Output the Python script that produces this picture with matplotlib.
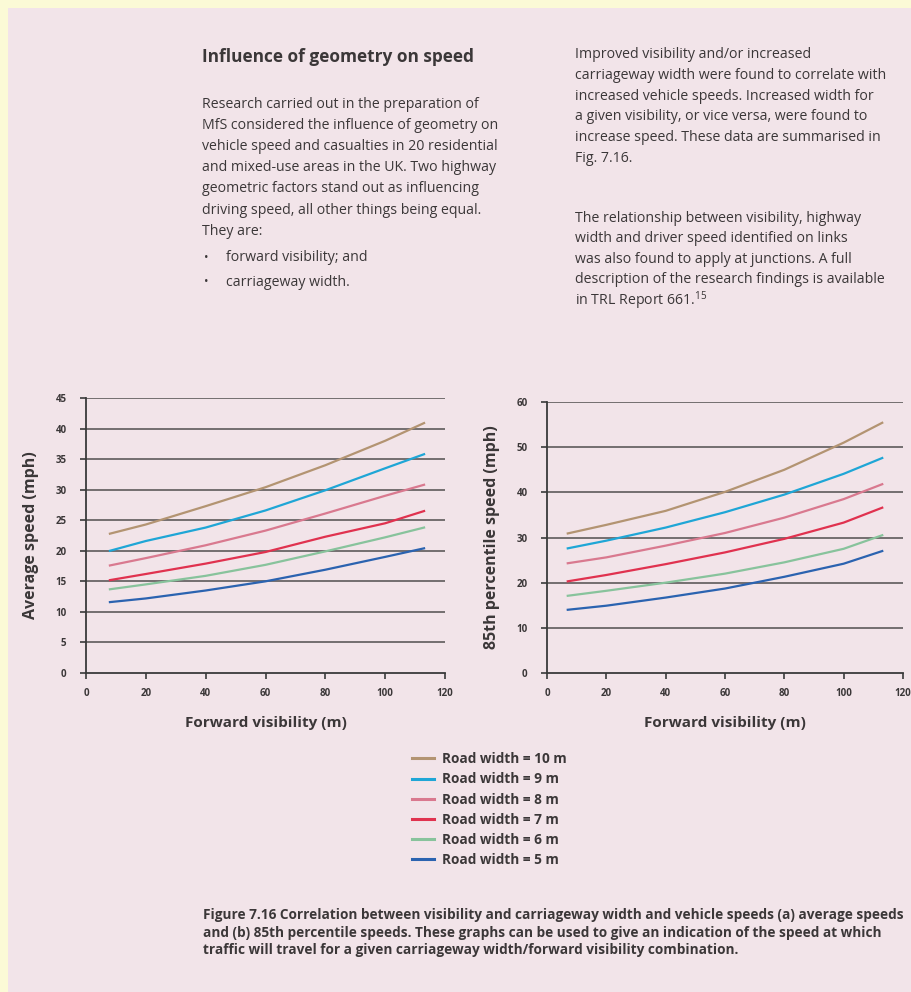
import matplotlib
matplotlib.use("Agg")
import matplotlib.pyplot as plt
from matplotlib.patches import Rectangle

FONT = ["Open Sans", "DejaVu Sans"]
plt.rcParams['font.family'] = FONT
plt.rcParams['mathtext.fontset'] = 'custom'
plt.rcParams['mathtext.rm'] = 'Open Sans'
plt.rcParams['mathtext.bf'] = 'Open Sans:bold'

# ---- data -------------------------------------------------------------
road_widths = ["10", "9", "8", "7", "6", "5"]
series_colors = ["#b39472", "#1fa6d6", "#d9798f", "#e0324f", "#88c39c", "#2b63b0"]

avg_visibility = [8, 20, 40, 60, 80, 100, 113]
avg_speed = {
    "10": [22.8, 24.3, 27.3, 30.4, 34.0, 38.0, 40.9],
    "9":  [20.0, 21.6, 23.8, 26.6, 29.9, 33.5, 35.8],
    "8":  [17.6, 18.8, 20.9, 23.3, 26.1, 29.0, 30.8],
    "7":  [15.2, 16.2, 17.9, 19.8, 22.3, 24.5, 26.5],
    "6":  [13.7, 14.5, 15.9, 17.7, 19.9, 22.2, 23.8],
    "5":  [11.6, 12.2, 13.5, 15.0, 16.9, 19.0, 20.4],
}

p85_visibility = [7, 20, 40, 60, 80, 100, 113]
p85_speed = {
    "10": [30.9, 32.8, 35.9, 40.1, 45.0, 51.0, 55.4],
    "9":  [27.6, 29.3, 32.2, 35.6, 39.5, 44.1, 47.6],
    "8":  [24.3, 25.6, 28.2, 31.0, 34.4, 38.5, 41.8],
    "7":  [20.3, 21.7, 24.1, 26.7, 29.7, 33.3, 36.6],
    "6":  [17.1, 18.2, 20.0, 22.0, 24.5, 27.5, 30.5],
    "5":  [14.0, 14.9, 16.7, 18.7, 21.3, 24.2, 27.0],
}

x_ticks = [0, 20, 40, 60, 80, 100, 120]
avg_ticks = [0, 5, 10, 15, 20, 25, 30, 35, 40, 45]
p85_ticks = [0, 10, 20, 30, 40, 50, 60]

# ---- page -------------------------------------------------------------
W, H = 911, 992
fig = plt.figure(figsize=(W / 100, H / 100), dpi=100)
fig.patch.set_facecolor("#fbfad6")
fig.patches.append(Rectangle((8 / W, 0), 1, 1 - 8 / H, transform=fig.transFigure,
                             facecolor="#f2e4e9", edgecolor="none", zorder=-5))

TXT = "#3b3738"


def ftext(x, y, s, **kw):
    kw.setdefault("color", TXT)
    kw.setdefault("va", "center")
    return fig.text(x / W, 1 - y / H, s, **kw)


BODY = 10.2

# left text column
ftext(202, 57, "Influence of geometry on speed", fontsize=12.4, fontweight="bold")
left_lines = [
    "Research carried out in the preparation of",
    "MfS considered the influence of geometry on",
    "vehicle speed and casualties in 20 residential",
    "and mixed-use areas in the UK. Two highway",
    "geometric factors stand out as influencing",
    "driving speed, all other things being equal.",
    "They are:",
]
for i, s in enumerate(left_lines):
    ftext(202, 104 + 21.2 * i, s, fontsize=BODY)
bullets = ["forward visibility; and", "carriageway width."]
for i, s in enumerate(bullets):
    ftext(204, 258 + 24 * i, "\u2022", fontsize=8.5)
    ftext(226, 258 + 24 * i, s, fontsize=BODY)

# right text column
right_p1 = [
    "Improved visibility and/or increased",
    "carriageway width were found to correlate with",
    "increased vehicle speeds. Increased width for",
    "a given visibility, or vice versa, were found to",
    "increase speed. These data are summarised in",
    "Fig. 7.16.",
]
right_p2 = [
    "The relationship between visibility, highway",
    "width and driver speed identified on links",
    "was also found to apply at junctions. A full",
    "description of the research findings is available",
    "in TRL Report 661.$^{15}$",
]
for i, s in enumerate(right_p1):
    ftext(575, 55 + 20.6 * i, s, fontsize=BODY)
for i, s in enumerate(right_p2):
    ftext(575, 218 + 20.6 * i, s, fontsize=BODY)


# ---- charts -----------------------------------------------------------
def make_axes(x0, x1, y0, y1):
    return fig.add_axes([x0 / W, 1 - y1 / H, (x1 - x0) / W, (y1 - y0) / H])


def style_axes(ax, yticks, ylabel, xs, data):
    ax.set_facecolor("none")
    ax.set_xlim(0, 120)
    ax.set_ylim(yticks[0], yticks[-1])
    ax.set_xticks(x_ticks)
    ax.set_yticks(yticks)
    ax.set_xticklabels([str(v) for v in x_ticks])
    ax.set_yticklabels([str(v) for v in yticks])
    for side in ("top", "right"):
        ax.spines[side].set_visible(False)
    for side in ("left", "bottom"):
        ax.spines[side].set_color("#3a3a3a")
        ax.spines[side].set_linewidth(1.3)
        ax.spines[side].set_zorder(4)
    ax.tick_params(axis="both", colors="#3a3a3a", labelcolor=TXT, labelsize=7,
                   width=1.2, length=4, direction="out")
    ax.tick_params(axis="x", pad=7)
    ax.tick_params(axis="y", pad=10)
    for lab in ax.get_xticklabels() + ax.get_yticklabels():
        lab.set_fontweight("bold")
    for v in yticks[1:]:
        ax.axhline(v, color="#5e5a5b", lw=1.2, zorder=1)
    for w, c in zip(road_widths, series_colors):
        ax.plot(xs, data[w], color=c, lw=1.6, zorder=3,
                label=f"Road width = {w} m", solid_joinstyle="round")
    ax.set_xlabel("Forward visibility (m)", fontsize=11, fontweight="bold",
                  color=TXT, labelpad=12)
    ax.set_ylabel(ylabel, fontsize=11.5, fontweight="bold", color=TXT, labelpad=12)


ax1 = make_axes(86, 445, 398, 673)
style_axes(ax1, avg_ticks, "Average speed (mph)", avg_visibility, avg_speed)

ax2 = make_axes(547, 903, 402, 673)
style_axes(ax2, p85_ticks, "85th percentile speed (mph)", p85_visibility, p85_speed)

handles, labels = ax1.get_legend_handles_labels()
leg = fig.legend(handles, labels, loc="upper left",
                 bbox_to_anchor=(400 / W, 1 - 740 / H), frameon=False,
                 handlelength=1.6, handletextpad=0.6, labelspacing=0.45,
                 prop={"family": FONT, "weight": "bold", "size": 9.8})
for t in leg.get_texts():
    t.set_color(TXT)
for l in leg.get_lines():
    l.set_linewidth(2.2)

# ---- caption ----------------------------------------------------------
caption = [
    "Figure 7.16 Correlation between visibility and carriageway width and vehicle speeds (a) average speeds",
    "and (b) 85th percentile speeds. These graphs can be used to give an indication of the speed at which",
    "traffic will travel for a given carriageway width/forward visibility combination.",
]
for i, s in enumerate(caption):
    ftext(203, 915 + 17.5 * i, s, fontsize=9.8, fontweight="bold")

fig.savefig("out.png", dpi=100, facecolor=fig.get_facecolor())
